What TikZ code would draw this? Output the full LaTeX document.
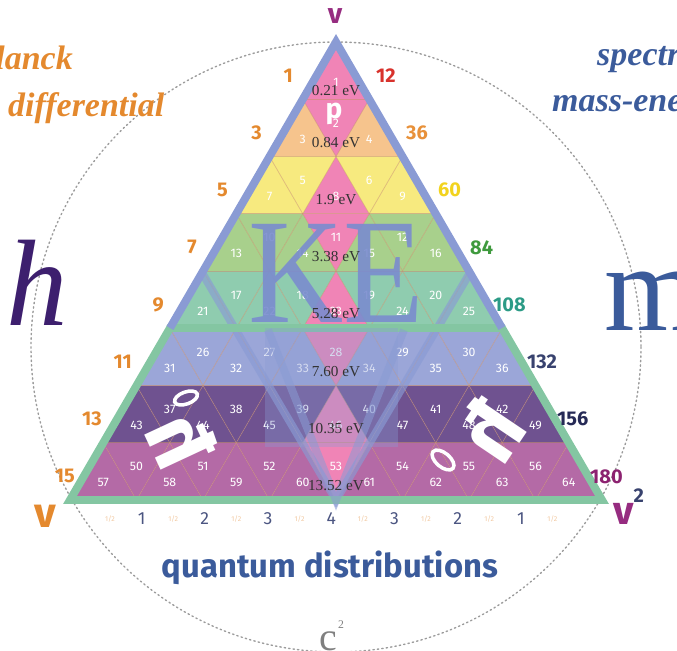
\documentclass[tikz,border=0pt]{standalone}
\usepackage{fontspec}
\setmainfont{Liberation Serif}
\newfontfamily\numfont{Fira Sans}
\usetikzlibrary{positioning}
\definecolor{rowA}{HTML}{EE80B5}
\definecolor{rowB}{HTML}{F6C48D}
\definecolor{rowC}{HTML}{F7EA7F}
\definecolor{rowD}{HTML}{A8D08C}
\definecolor{rowE}{HTML}{8FCCAF}
\definecolor{rowF}{HTML}{9BA6D8}
\definecolor{rowG}{HTML}{6F5290}
\definecolor{rowH}{HTML}{B46AA6}
\definecolor{midpink}{HTML}{F084B6}
\definecolor{gridtan}{HTML}{C98F6A}
\definecolor{frameblue}{HTML}{8A9BD4}
\definecolor{framegreen}{HTML}{84C6A2}
\definecolor{kecol}{HTML}{7A8CCF}
\definecolor{planckorange}{HTML}{E4892E}
\definecolor{specblue}{HTML}{3B5B9B}
\definecolor{hpurple}{HTML}{3D1F6E}
\definecolor{vplum}{HTML}{962C80}
\definecolor{axisgrey}{HTML}{4B5581}
\definecolor{halfpeach}{HTML}{F1C9A2}
\definecolor{numred}{HTML}{D8322C}
\definecolor{numorange}{HTML}{E8913A}
\definecolor{numyellow}{HTML}{F2D31E}
\definecolor{numgreen}{HTML}{3F9A3E}
\definecolor{numteal}{HTML}{2C9B86}
\definecolor{numnavy}{HTML}{38426E}
\definecolor{numdeep}{HTML}{262A56}
\definecolor{numplum}{HTML}{8C2270}
\definecolor{ringgrey}{HTML}{9C9C9C}
\tikzset{
  cellnum/.style={font=\numfont\fontsize{10.5}{10.5}\selectfont, text=white, inner sep=0pt},
  evlabel/.style={font=\fontsize{13}{13}\selectfont, text=black!80, inner sep=0pt},
  sidenum/.style={font=\numfont\bfseries\fontsize{17}{17}\selectfont, inner sep=0pt},
  axisnum/.style={font=\numfont\fontsize{15}{15}\selectfont, text=axisgrey, inner sep=0pt},
  halfnum/.style={font=\numfont\fontsize{6}{6}\selectfont, text=halfpeach, inner sep=0pt},
  band/.style={line width=6.8pt, line join=miter},
  gridline/.style={gridtan, line width=0.6pt, opacity=.55},
  whiteglyph/.style={font=\numfont\bfseries\fontsize{72}{72}\selectfont, text=white, inner sep=0pt},
  whitering/.style={white, line width=3pt},
  sidetext/.style={font=\bfseries\itshape\fontsize{29}{29}\selectfont, inner sep=0pt},
  dotring/.style={ringgrey, line width=1.2pt, dash pattern=on 1.2pt off 2.6pt, line cap=round}
}

\begin{document}
\begin{tikzpicture}[x=0.03cm,y=-0.03cm]
\useasboundingbox (0,0) rectangle (677,651);
\clip (0,0) rectangle (677,651);
\coordinate (apex) at (336,42);
\coordinate (bl) at (70,500);
\coordinate (br) at (602,500);
\coordinate (hub) at (336,347);
\coordinate (kl) at (201,271);
\coordinate (kr) at (471,271);
\coordinate (kb) at (336,500);
\coordinate (gl) at (170,328);
\coordinate (gr) at (502,328);

\draw[dotring] (hub) circle (305);

% cells, row by row
\foreach \k/\rowcol in {1/rowA,2/rowB,3/rowC,4/rowD,5/rowE,6/rowF,7/rowG,8/rowH}{
  \pgfmathsetmacro\ytop{42+(\k-1)*57.25}
  \pgfmathsetmacro\ybot{\ytop+57.25}
  \pgfmathtruncatemacro\nup{\k-1}
  \foreach \j in {0,...,\nup}{
    \pgfmathsetmacro\xl{336-\k*33.25+\j*66.5}
    \pgfmathtruncatemacro\pos{2*\j+1}
    \pgfmathtruncatemacro\cellno{\k*\k-\k+1+\j}
    \ifnum\pos=\k\relax\def\fillcol{midpink}\else\edef\fillcol{\rowcol}\fi
    \fill[fill=\fillcol] (\xl,\ybot) -- ++(66.5,0) -- ++(-33.25,-57.25) -- cycle;
    \node[cellnum] (c\cellno) at (\xl+33.25,\ytop+40) {\cellno};
  }
  \ifnum\k>1
    \pgfmathtruncatemacro\ndown{\k-2}
    \foreach \j in {0,...,\ndown}{
      \pgfmathsetmacro\xt{336-(\k-1)*33.25+\j*66.5}
      \pgfmathtruncatemacro\pos{2*\j+2}
      \pgfmathtruncatemacro\cellno{(\k-1)*(\k-1)+1+\j}
      \ifnum\pos=\k\relax\def\fillcol{midpink}\else\edef\fillcol{\rowcol}\fi
      \fill[fill=\fillcol] (\xt,\ytop) -- ++(66.5,0) -- ++(-33.25,57.25) -- cycle;
      \node[cellnum] (c\cellno) at (\xt+33.25,\ytop+24) {\cellno};
    }
  \fi
}

\foreach \i in {1,...,7}{
  \draw[gridline] (70+\i*66.5,500) -- ++({(8-\i)*33.25},{-(8-\i)*57.25});
  \draw[gridline] (70+\i*66.5,500) -- ++({-\i*33.25},{-\i*57.25});
  \draw[gridline] ({336-\i*33.25},{42+\i*57.25}) -- ++({\i*66.5},0);
}

% frames
\draw[band, frameblue, opacity=.65] (kl) -- (kb) -- (kr);
\draw[band, framegreen] (gl) -- (bl) -- (br) -- (gr) -- cycle;
\draw[band, frameblue] (gl) -- (apex) -- (gr);

\node[font=\fontsize{128}{128}\selectfont, text=kecol, anchor=base, inner sep=0pt, opacity=.9] (ke) at (336,322) {\scalebox{.88}[1]{KE}};
\fill[frameblue, opacity=.35] (265,328) rectangle (398,447);
\draw[band, frameblue, opacity=.55] (268,330) -- (kb) -- (404,330);

\foreach \k/\ev in {1/0.21,2/0.84,3/1.9,4/3.38,5/5.28,6/7.60,7/10.35,8/13.52}{
  \pgfmathsetmacro\yev{42+(\k-1)*57.25+(\k==1 ? 49 : 43)}
  \node[evlabel] (ev\k) at (336,\yev) {\ev~eV};
}
\node[font=\numfont\bfseries\fontsize{24}{24}\selectfont, text=white, inner sep=0pt] (pee) at (334,114) {p};

\node[whiteglyph, rotate=-65] (hbarL) at (182,440) {\scalebox{-1}[1]{ħ}};
\draw[whitering, rotate around={20:(186,398)}] (186,398) ellipse (12 and 6);
\node[whiteglyph, rotate=56] (hbarR) at (490,430) {\scalebox{-1}[1]{ħ}};
\draw[whitering, rotate around={-40:(443,460)}] (443,460) ellipse (13 and 7);

% row totals
\foreach \k/\lx in {1/293,2/262,3/228,4/197,5/164,6/132,7/102,8/75}{
  \pgfmathtruncatemacro\odd{2*\k-1}
  \node[sidenum, text=planckorange, anchor=east] (left\k) at (\lx,{42+(\k-0.5)*57.25+5}) {\odd};
}
\foreach \k/\rn/\rx/\rc in {1/12/376/numred,2/36/406/numorange,3/60/438/numyellow,4/84/470/numgreen,5/108/493/numteal,6/132/527/numnavy,7/156/557/numdeep,8/180/590/numplum}{
  \node[sidenum, text=\rc, anchor=west] (right\k) at (\rx,{42+(\k-0.5)*57.25+5}) {\rn};
}

\foreach \i in {0,...,14}{
  \pgfmathsetmacro\ax{110+31.6*\i}
  \ifodd\i
    \pgfmathtruncatemacro\val{4-abs(\i-7)/2}
    \node[axisnum] (tick\i) at (\ax,519) {\val};
  \else
    \node[halfnum] (tick\i) at (\ax,519) {1/2};
  \fi
}

\node[font=\numfont\bfseries\fontsize{24}{24}\selectfont, text=vplum] (vtop) at (335,16) {v};
\node[font=\numfont\bfseries\fontsize{36}{36}\selectfont, text=planckorange] (vleft) at (45,516) {v};
\node[font=\numfont\bfseries\fontsize{34}{34}\selectfont, text=vplum, anchor=base west, inner sep=0pt] (vright) at (613,524) {v\raisebox{.55em}{\fontsize{17}{17}\selectfont\color{numnavy}2}};

\node[sidetext, text=planckorange, anchor=base east] (planck) at (73,70) {Planck};
\node[sidetext, text=planckorange, anchor=base west] (diff) at (8,117) {differential};
\node[sidetext, text=specblue, anchor=base west] (spec) at (597,66) {spectral};
\node[sidetext, text=specblue, anchor=base west] (massen) at (552,112) {mass-energy};
\node[font=\itshape\fontsize{105}{105}\selectfont, text=hpurple, anchor=base, inner sep=0pt] (hsym) at (37,325) {h};
\node[font=\fontsize{106}{106}\selectfont, text=specblue, anchor=base west, inner sep=0pt] (msym) at (604,330) {m};

\node[font=\numfont\bfseries\fontsize{28}{28}\selectfont, text=specblue, anchor=base, inner sep=0pt] (quantum) at (330,577) {quantum distributions};
\node[font=\fontsize{34}{34}\selectfont, text=gray, anchor=base west, inner sep=0pt] (csq) at (319,650) {c\kern1pt\raisebox{.55em}{\fontsize{10}{10}\selectfont 2}};
\end{tikzpicture}
\end{document}
